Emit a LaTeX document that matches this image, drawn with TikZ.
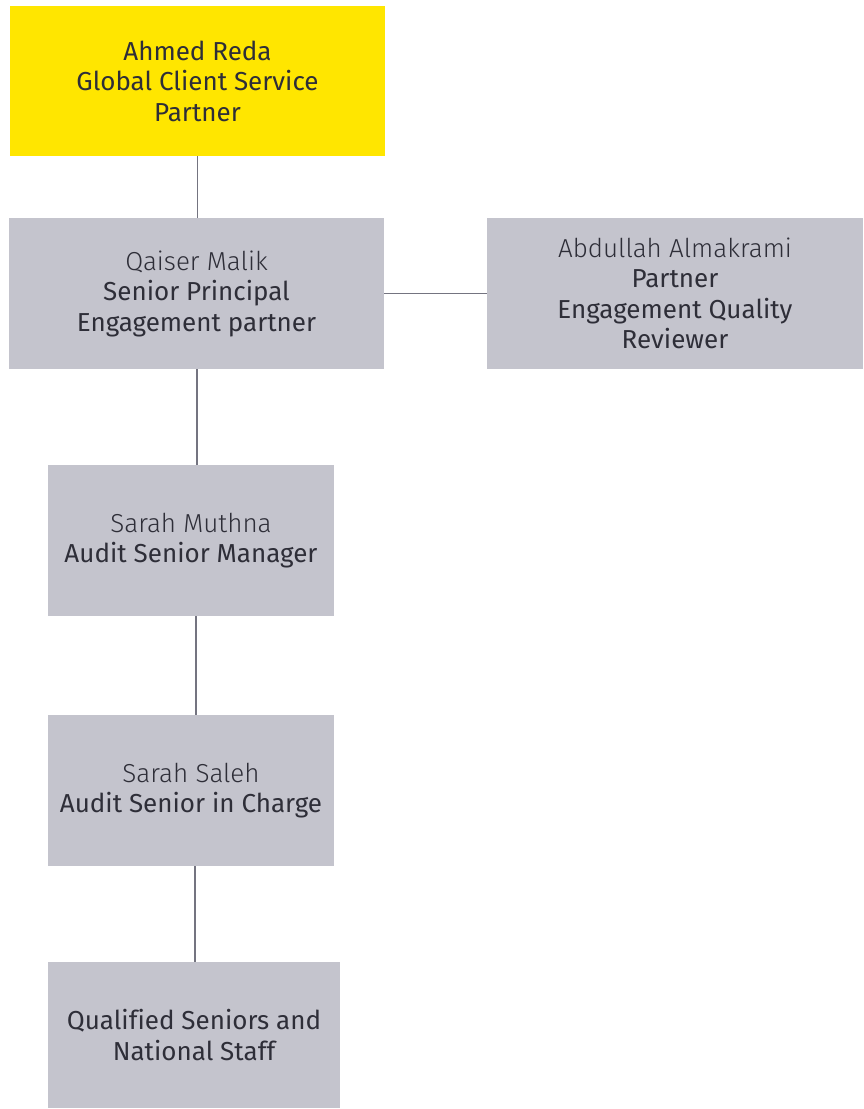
\documentclass[tikz,border=0pt]{standalone}
\usepackage{fontspec}
\setmainfont{Fira Sans}[Ligatures=NoCommon]
\newfontfamily\namefont{Fira Sans Light}[Ligatures=NoCommon]
\usetikzlibrary{positioning}

\definecolor{eyyellow}{HTML}{FFE600}
\definecolor{eygrey}{HTML}{C4C4CD}
\definecolor{eytext}{HTML}{2E2E38}
\definecolor{eyline}{HTML}{747480}

\begin{document}
\begin{tikzpicture}[x=1pt, y=-1pt,
    box/.style={fill=eygrey, inner sep=0pt, align=center, text=eytext,
      font=\fontsize{26}{30.5}\selectfont},
    lead/.style={box, fill=eyyellow},
    link/.style={draw=eyline, line width=1.5pt}]
  \useasboundingbox (0,0) rectangle (863,1109);
  % boxes
  \node[lead, minimum width=375pt, minimum height=150pt] (gcsp) at (197.5,81) {Ahmed Reda\\Global Client Service\\Partner};
  \node[box, minimum width=375pt, minimum height=151pt] (qm) at (196.5,293.5) {{\namefont Qaiser Malik}\\Senior Principal\\Engagement partner};
  \node[box, minimum width=376pt, minimum height=151pt] (aa) at (675,293.5) {{\namefont Abdullah Almakrami}\\Partner\\Engagement Quality\\Reviewer};
  \node[box, minimum width=286pt, minimum height=151pt] (sm) at (191,540.5) {{\namefont Sarah Muthna}\\Audit Senior Manager};
  \node[box, minimum width=286pt, minimum height=151pt] (ss) at (191,790.5) {{\namefont Sarah Saleh}\\Audit Senior in Charge};
  \node[box, minimum width=292pt, minimum height=146pt] (qs) at (194,1035) {Qualified Seniors and\\National Staff};
  % links
  \draw[link] (gcsp.south) -- (gcsp.south |- qm.north);
  \draw[link] (qm.east) -- (aa.west);
  \coordinate (c1) at ([xshift=0.5pt]qm.south);
  \draw[link] (c1) -- (c1 |- sm.north);
  \coordinate (c2) at ([xshift=5pt]sm.south);
  \draw[link] (c2) -- (c2 |- ss.north);
  \coordinate (c3) at ([xshift=4pt]ss.south);
  \draw[link] (c3) -- (c3 |- qs.north);
\end{tikzpicture}
\end{document}
